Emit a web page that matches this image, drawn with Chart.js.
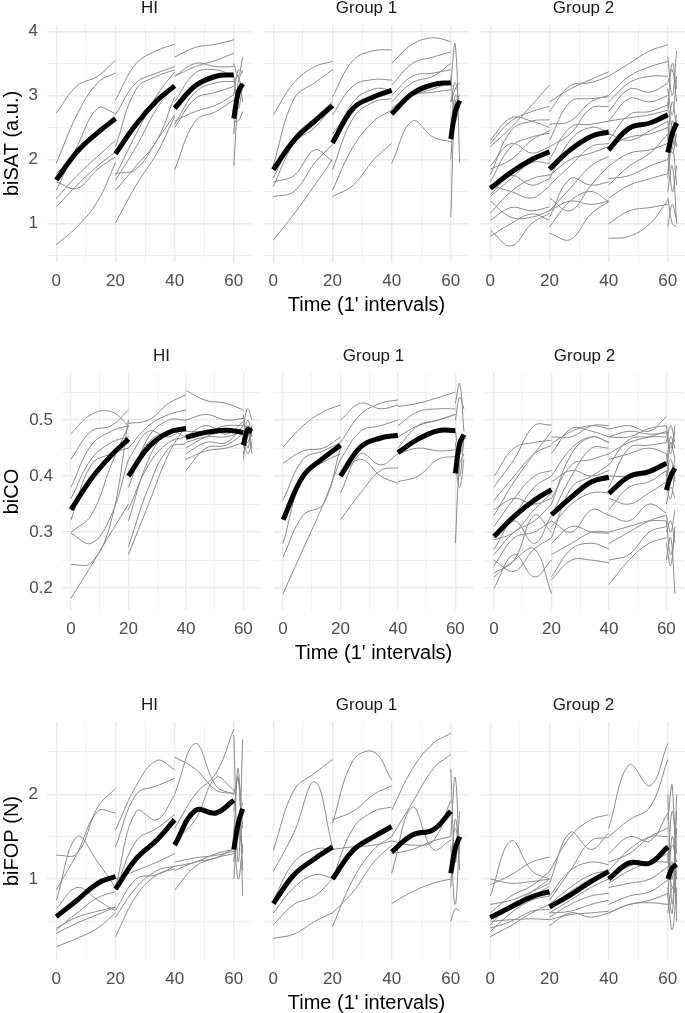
<!DOCTYPE html>
<html>
<head>
<meta charset="utf-8">
<script src="https://cdn.jsdelivr.net/npm/chart.js@4.4.1/dist/chart.umd.min.js"></script>
<style>
  html, body { margin: 0; padding: 0; background: #fff; overflow: hidden; }
  body { width: 685px; height: 1013px; position: relative; }
  .panel { position: absolute; }
</style>
</head>
<body>
<script>
// every line is cut in four blocks: 0-20, 20-40, 40-60 and the short 60-63 tail
const segTimes = [[0, 7, 14, 20], [20, 27, 34, 40], [40, 47, 54, 60], [60, 61.5, 63]];
const xTicks = [0, 10, 20, 30, 40, 50, 60];
const xTickLabels = ['0', '', '20', '', '40', '', '60'];
const groups = ['HI', 'Group 1', 'Group 2'];

const satTicks = [0.5, 1, 1.5, 2, 2.5, 3, 3.5, 4];
const satTickLabels = ['', '1', '', '2', '', '3', '', '4'];
const coTicks = [0.2, 0.25, 0.3, 0.35, 0.4, 0.45, 0.5, 0.55];
const coTickLabels = ['0.2', '', '0.3', '', '0.4', '', '0.5', ''];
const fopTicks = [0.5, 1, 1.5, 2, 2.5];
const fopTickLabels = ['', '1', '', '2', ''];

// biSAT
const satHIMean = [1.68, 2.12, 2.42, 2.64, 2.09, 2.55, 2.92, 3.15, 2.8, 3.15, 3.3, 3.32, 2.64, 3.05, 3.18];
const satHI = [
  [2.73, 3.15, 3.3, 3.55, 2.93, 3.5, 3.7, 3.8, 3.6, 3.75, 3.8, 3.87, 3.5, 3.3, 3.6],
  [1.94, 2.7, 3.2, 3.35, 2.7, 3.2, 3.35, 3.45, 3.3, 3.45, 3.55, 3.66, 3.0, 3.4, 3.35],
  [1.52, 2.2, 2.8, 2.72, 2.2, 3.1, 3.3, 3.4, 3.3, 3.5, 3.45, 3.45, 3.3, 2.8, 3.15],
  [1.78, 2.1, 2.4, 2.6, 1.75, 2.4, 3.0, 3.37, 2.9, 3.35, 3.4, 3.3, 2.4, 3.2, 3.4],
  [1.39, 1.75, 2.05, 2.3, 1.68, 2.2, 2.8, 3.15, 2.55, 3.05, 3.2, 3.22, 3.1, 3.0, 3.2],
  [1.26, 1.6, 1.9, 2.12, 1.52, 1.9, 2.3, 2.98, 2.5, 2.95, 3.05, 3.14, 3.2, 3.3, 2.9],
  [1.65, 1.55, 1.85, 2.04, 1.78, 1.85, 2.3, 2.7, 2.6, 2.75, 2.85, 3.01, 2.6, 2.6, 2.75],
  [0.67, 0.95, 1.35, 1.95, 1.01, 1.6, 2.1, 2.67, 1.84, 2.6, 2.75, 2.93, 1.9, 2.9, 3.2]
];
const satG1Mean = [1.84, 2.3, 2.6, 2.84, 2.26, 2.8, 2.98, 3.08, 2.71, 3.03, 3.17, 3.2, 2.32, 2.75, 2.92];
const satG1 = [
  [2.70, 3.2, 3.45, 3.53, 2.98, 3.55, 3.7, 3.71, 3.5, 3.8, 3.9, 3.84, 3.2, 3.8, 1.95],
  [1.91, 2.95, 3.2, 3.4, 2.7, 3.15, 3.25, 3.24, 3.16, 3.5, 3.6, 3.68, 1.1, 2.9, 3.0],
  [1.71, 2.35, 2.65, 2.9, 2.25, 2.9, 3.1, 3.09, 2.9, 3.2, 3.3, 3.5, 2.9, 3.2, 2.8],
  [1.58, 2.25, 2.5, 2.83, 1.84, 2.65, 2.9, 2.95, 2.8, 3.0, 3.1, 3.21, 3.3, 2.6, 2.9],
  [1.42, 1.5, 1.95, 2.23, 1.52, 2.2, 2.6, 2.77, 2.75, 3.0, 3.05, 3.09, 2.5, 3.0, 2.9],
  [1.65, 1.75, 2.15, 1.97, 1.42, 1.6, 2.0, 2.25, 1.94, 2.6, 2.35, 2.28, 2.0, 2.9, 2.8],
  [0.74, 1.15, 1.6, 2.0, 2.4, 2.8, 3.0, 3.1, 3.0, 3.3, 3.35, 3.4, 2.9, 3.1, 3.2]
];
const satG2Mean = [1.55, 1.8, 2.0, 2.12, 1.85, 2.15, 2.36, 2.43, 2.15, 2.49, 2.57, 2.7, 2.11, 2.4, 2.57];
const satG2 = [
  [2.25, 2.6, 2.75, 2.83, 2.9, 3.1, 3.25, 3.37, 3.3, 3.5, 3.7, 3.79, 3.6, 3.0, 3.7],
  [2.2, 2.5, 2.85, 3.16, 2.75, 3.15, 3.2, 3.3, 3.0, 3.3, 3.45, 3.53, 3.1, 2.7, 3.3],
  [1.76, 2.45, 2.6, 2.62, 2.3, 2.9, 2.95, 2.98, 2.75, 3.1, 3.05, 3.19, 3.2, 3.4, 2.9],
  [1.65, 2.2, 2.35, 2.41, 2.2, 2.4, 2.8, 2.83, 2.6, 2.95, 2.9, 3.0, 2.9, 2.5, 2.6],
  [1.9, 2.25, 2.1, 2.2, 2.0, 2.5, 2.55, 2.6, 2.6, 2.65, 2.7, 2.77, 2.3, 2.9, 2.5],
  [1.42, 1.7, 1.95, 1.94, 1.7, 2.3, 2.5, 2.43, 2.4, 2.3, 2.45, 2.6, 2.6, 2.2, 2.7],
  [1.6, 1.5, 1.4, 1.58, 1.6, 1.9, 2.2, 2.25, 2.2, 2.35, 2.4, 2.5, 2.0, 2.3, 2.2],
  [1.16, 1.5, 1.7, 1.76, 1.4, 1.2, 1.6, 1.9, 1.9, 2.1, 2.15, 2.25, 1.8, 2.2, 1.6],
  [1.05, 1.25, 1.2, 1.26, 1.1, 1.7, 1.6, 1.65, 1.7, 1.75, 1.9, 2.0, 2.4, 1.5, 1.9],
  [0.9, 0.65, 1.0, 1.16, 0.95, 1.35, 1.5, 1.34, 1.4, 1.6, 1.7, 1.78, 1.5, 1.9, 1.0],
  [0.8, 1.0, 1.15, 1.05, 0.85, 0.75, 1.15, 1.34, 0.77, 0.8, 1.0, 1.37, 1.4, 1.0, 0.95],
  [1.35, 1.1, 1.1, 1.2, 1.2, 1.35, 1.3, 1.35, 1.0, 1.2, 1.25, 1.3, 0.95, 1.3, 1.05],
  [2.3, 2.65, 2.6, 2.5, 2.55, 2.6, 2.9, 3.0, 2.9, 3.2, 3.3, 3.3, 2.8, 3.5, 3.1],
  [1.45, 1.75, 1.6, 1.7, 1.2, 1.55, 1.9, 2.05, 1.6, 1.9, 2.1, 2.4, 1.7, 2.6, 2.2],
  [1.85, 2.0, 2.3, 2.45, 1.75, 2.0, 2.1, 2.2, 2.3, 2.7, 2.75, 2.85, 2.5, 2.1, 2.4]
];

// biCO
const coHIMean = [0.34, 0.395, 0.437, 0.466, 0.40, 0.452, 0.478, 0.485, 0.469, 0.478, 0.482, 0.478, 0.455, 0.483, 0.479];
const coHI = [
  [0.476, 0.51, 0.515, 0.49, 0.494, 0.50, 0.53, 0.545, 0.553, 0.535, 0.53, 0.518, 0.49, 0.52, 0.50],
  [0.43, 0.48, 0.49, 0.518, 0.45, 0.49, 0.51, 0.518, 0.50, 0.51, 0.50, 0.503, 0.46, 0.50, 0.47],
  [0.38, 0.455, 0.48, 0.49, 0.38, 0.47, 0.50, 0.50, 0.47, 0.49, 0.475, 0.497, 0.51, 0.45, 0.49],
  [0.322, 0.42, 0.44, 0.45, 0.32, 0.43, 0.48, 0.47, 0.44, 0.46, 0.46, 0.49, 0.43, 0.48, 0.44],
  [0.298, 0.28, 0.33, 0.43, 0.274, 0.38, 0.45, 0.458, 0.41, 0.45, 0.455, 0.476, 0.47, 0.44, 0.46],
  [0.242, 0.245, 0.32, 0.50, 0.26, 0.35, 0.44, 0.49, 0.43, 0.445, 0.45, 0.46, 0.45, 0.49, 0.45],
  [0.182, 0.24, 0.30, 0.35, 0.40, 0.46, 0.48, 0.48, 0.46, 0.47, 0.47, 0.48, 0.44, 0.47, 0.48],
  [0.36, 0.43, 0.46, 0.47, 0.43, 0.48, 0.47, 0.49, 0.48, 0.48, 0.49, 0.49, 0.47, 0.46, 0.49],
  [0.30, 0.33, 0.42, 0.49, 0.34, 0.42, 0.46, 0.47, 0.45, 0.47, 0.48, 0.48, 0.46, 0.49, 0.47]
];
const coG1Mean = [0.322, 0.40, 0.432, 0.455, 0.40, 0.452, 0.468, 0.473, 0.442, 0.466, 0.481, 0.481, 0.405, 0.458, 0.474];
const coG1 = [
  [0.452, 0.49, 0.515, 0.527, 0.50, 0.53, 0.52, 0.527, 0.524, 0.53, 0.54, 0.55, 0.53, 0.565, 0.48],
  [0.423, 0.445, 0.45, 0.47, 0.46, 0.51, 0.53, 0.536, 0.49, 0.515, 0.52, 0.52, 0.50, 0.54, 0.52],
  [0.357, 0.43, 0.445, 0.46, 0.37, 0.44, 0.42, 0.44, 0.44, 0.45, 0.445, 0.447, 0.28, 0.42, 0.44],
  [0.28, 0.40, 0.425, 0.44, 0.322, 0.37, 0.41, 0.415, 0.39, 0.40, 0.43, 0.435, 0.42, 0.38, 0.43],
  [0.256, 0.33, 0.35, 0.45, 0.40, 0.43, 0.40, 0.387, 0.45, 0.49, 0.50, 0.51, 0.46, 0.40, 0.47],
  [0.19, 0.27, 0.35, 0.43, 0.43, 0.48, 0.49, 0.50, 0.47, 0.49, 0.50, 0.51, 0.48, 0.44, 0.46]
];
const coG2Mean = [0.292, 0.328, 0.357, 0.376, 0.331, 0.363, 0.39, 0.398, 0.369, 0.399, 0.408, 0.423, 0.375, 0.40, 0.414];
const coG2 = [
  [0.381, 0.43, 0.49, 0.491, 0.458, 0.48, 0.49, 0.484, 0.484, 0.49, 0.48, 0.506, 0.48, 0.44, 0.49],
  [0.40, 0.45, 0.46, 0.464, 0.44, 0.485, 0.48, 0.47, 0.47, 0.48, 0.475, 0.477, 0.46, 0.49, 0.46],
  [0.357, 0.40, 0.44, 0.455, 0.40, 0.45, 0.47, 0.46, 0.42, 0.465, 0.47, 0.47, 0.42, 0.47, 0.45],
  [0.31, 0.36, 0.40, 0.41, 0.33, 0.40, 0.45, 0.45, 0.38, 0.45, 0.455, 0.46, 0.44, 0.40, 0.43],
  [0.29, 0.33, 0.38, 0.40, 0.36, 0.42, 0.43, 0.44, 0.43, 0.44, 0.45, 0.44, 0.40, 0.43, 0.39],
  [0.286, 0.30, 0.34, 0.37, 0.29, 0.38, 0.40, 0.42, 0.34, 0.38, 0.39, 0.41, 0.38, 0.36, 0.41],
  [0.26, 0.30, 0.32, 0.35, 0.31, 0.35, 0.37, 0.37, 0.36, 0.35, 0.37, 0.39, 0.35, 0.38, 0.36],
  [0.24, 0.29, 0.30, 0.32, 0.32, 0.30, 0.34, 0.33, 0.33, 0.32, 0.35, 0.334, 0.33, 0.30, 0.34],
  [0.227, 0.25, 0.33, 0.30, 0.28, 0.31, 0.30, 0.298, 0.28, 0.30, 0.32, 0.33, 0.30, 0.32, 0.28],
  [0.20, 0.26, 0.22, 0.25, 0.215, 0.25, 0.25, 0.245, 0.206, 0.25, 0.28, 0.29, 0.25, 0.29, 0.19],
  [0.22, 0.25, 0.27, 0.19, 0.26, 0.28, 0.30, 0.30, 0.30, 0.31, 0.32, 0.32, 0.32, 0.26, 0.30],
  [0.34, 0.36, 0.35, 0.36, 0.39, 0.41, 0.40, 0.41, 0.40, 0.40, 0.41, 0.42, 0.41, 0.39, 0.42],
  [0.33, 0.39, 0.44, 0.48, 0.47, 0.47, 0.49, 0.49, 0.47, 0.47, 0.485, 0.49, 0.49, 0.45, 0.48],
  [0.27, 0.32, 0.28, 0.33, 0.35, 0.44, 0.47, 0.46, 0.44, 0.46, 0.47, 0.48, 0.39, 0.46, 0.43],
  [0.25, 0.23, 0.27, 0.29, 0.22, 0.27, 0.28, 0.27, 0.25, 0.26, 0.30, 0.31, 0.28, 0.24, 0.31]
];

// biFOP
const fopHIMean = [0.555, 0.75, 0.95, 1.03, 0.88, 1.24, 1.46, 1.70, 1.40, 1.81, 1.78, 1.93, 1.35, 1.66, 1.83];
const fopHI = [
  [1.28, 1.3, 1.85, 2.07, 1.58, 2.1, 2.4, 2.29, 2.44, 2.3, 2.05, 2.01, 2.0, 2.2, 1.1],
  [0.87, 1.3, 1.8, 1.78, 1.38, 2.0, 2.1, 2.19, 2.0, 2.6, 2.1, 2.0, 2.7, 1.2, 2.65],
  [0.75, 1.5, 1.2, 0.9, 0.9, 1.8, 1.7, 1.99, 1.6, 2.0, 2.25, 2.77, 1.5, 2.3, 0.8],
  [0.42, 0.55, 0.62, 0.67, 0.87, 1.45, 1.6, 1.76, 1.1, 1.2, 1.25, 1.36, 1.3, 1.5, 1.4],
  [0.36, 0.48, 0.58, 0.67, 0.63, 1.0, 1.05, 1.15, 0.87, 1.15, 1.25, 1.3, 1.2, 1.7, 1.9],
  [0.2, 0.3, 0.42, 0.6, 0.32, 0.8, 1.05, 1.12, 1.45, 1.7, 2.2, 2.05, 1.8, 2.2, 1.6],
  [0.65, 0.9, 0.75, 0.62, 1.0, 1.1, 1.2, 1.3, 1.15, 1.2, 1.3, 1.35, 1.0, 1.6, 1.3],
  [0.4, 0.6, 0.78, 0.85, 0.55, 0.9, 1.1, 1.15, 1.2, 1.25, 1.28, 1.33, 1.6, 1.0, 1.4]
];
const fopG1Mean = [0.71, 1.05, 1.24, 1.38, 1.0, 1.34, 1.5, 1.62, 1.32, 1.52, 1.58, 1.80, 1.07, 1.36, 1.5];
const fopG1 = [
  [1.34, 2.05, 2.25, 2.41, 1.66, 2.4, 2.5, 2.17, 1.81, 2.3, 2.6, 2.72, 2.3, 1.2, 1.8],
  [1.09, 1.55, 2.15, 1.38, 1.7, 1.8, 2.0, 2.1, 1.5, 1.9, 2.3, 2.47, 1.5, 2.2, 1.1],
  [0.6, 0.9, 1.05, 1.01, 1.0, 1.6, 1.8, 1.85, 1.07, 1.85, 1.35, 1.46, 0.9, 1.7, 1.3],
  [0.46, 0.7, 0.8, 1.0, 0.44, 1.0, 1.35, 1.5, 1.45, 1.4, 1.45, 1.93, 1.4, 0.7, 1.5],
  [0.3, 0.35, 0.5, 0.6, 0.6, 0.85, 1.2, 1.4, 0.71, 0.85, 0.95, 1.0, 0.5, 0.65, 0.62],
  [0.75, 1.2, 1.35, 1.36, 1.35, 1.38, 1.4, 1.45, 1.3, 1.35, 1.45, 1.5, 1.2, 1.6, 1.3]
];
const fopG2Mean = [0.547, 0.67, 0.79, 0.85, 0.67, 0.81, 0.97, 1.09, 1.0, 1.19, 1.19, 1.38, 1.0, 1.13, 1.17];
const fopG2 = [
  [0.8, 1.45, 1.1, 1.0, 1.09, 1.5, 1.7, 1.76, 1.6, 2.35, 2.1, 2.6, 2.0, 0.7, 2.0],
  [0.93, 1.05, 1.2, 1.26, 0.95, 1.55, 1.35, 1.54, 1.5, 1.7, 1.85, 2.41, 1.7, 2.1, 0.5],
  [0.6, 0.8, 0.92, 1.09, 0.8, 1.1, 1.2, 1.17, 1.3, 1.5, 1.45, 1.78, 1.2, 1.8, 1.3],
  [0.46, 0.7, 0.8, 0.91, 0.67, 0.85, 1.0, 1.07, 1.1, 1.35, 1.5, 1.5, 0.8, 1.5, 1.0],
  [0.38, 0.6, 0.75, 0.8, 0.55, 0.7, 0.8, 0.83, 0.9, 0.95, 1.0, 1.15, 1.0, 1.2, 0.7],
  [0.32, 0.45, 0.6, 0.7, 0.45, 0.6, 0.55, 0.6, 0.7, 0.8, 0.85, 0.99, 0.9, 0.6, 1.6],
  [0.5, 0.52, 0.53, 0.52, 0.52, 0.58, 0.6, 0.62, 0.6, 0.7, 0.75, 0.83, 0.6, 0.9, 0.8],
  [0.7, 0.75, 0.85, 0.95, 0.6, 0.75, 0.9, 1.0, 0.95, 1.1, 1.2, 1.3, 1.1, 1.4, 1.2],
  [1.0, 0.95, 0.97, 1.0, 0.7, 0.9, 1.05, 1.1, 1.0, 1.15, 1.2, 1.2, 1.3, 0.9, 1.1],
  [0.55, 0.68, 0.85, 1.0, 0.75, 1.1, 1.45, 1.49, 1.2, 1.3, 1.5, 1.6, 1.4, 1.0, 1.8],
  [0.42, 0.5, 0.62, 0.64, 0.6, 0.62, 0.7, 0.75, 0.6, 0.7, 0.72, 0.7, 0.8, 0.4, 0.9]
];

// layout of the three facet rows (panel edges in page pixels)
const rows = [
  { yTitle: 'biSAT (a.u.)', ticks: satTicks, labels: satTickLabels, min: 0.4, max: 4.1,
    top: 25, bottom: 262, lefts: [47, 264, 481], width: 205,
    panels: [[satHI, satHIMean], [satG1, satG1Mean], [satG2, satG2Mean]] },
  { yTitle: 'biCO', ticks: coTicks, labels: coTickLabels, min: 0.161, max: 0.584,
    top: 373, bottom: 610, lefts: [62, 274, 485], width: 199,
    panels: [[coHI, coHIMean], [coG1, coG1Mean], [coG2, coG2Mean]] },
  { yTitle: 'biFOP (N)', ticks: fopTicks, labels: fopTickLabels, min: 0.044, max: 2.854,
    top: 722, bottom: 960, lefts: [47, 264, 481], width: 205,
    panels: [[fopHI, fopHIMean], [fopG1, fopG1Mean], [fopG2, fopG2Mean]] }
];

const TITLE_H = 30;
const XAXIS_H = 55;
Chart.defaults.font.family = "'Liberation Sans', Arial, Helvetica, sans-serif";

function segmentsOf(values) {
  let k = 0;
  return segTimes.map(times => times.map(t => ({ x: t, y: values[k++] })));
}

function lineSets(subjects, mean) {
  const sets = [];
  subjects.forEach(s => {
    segmentsOf(s).forEach(seg => sets.push({
      data: seg, borderColor: '#8a8a8a', borderWidth: 1, tension: 0.4, pointRadius: 0, order: 1
    }));
  });
  segmentsOf(mean).forEach(seg => sets.push({
    data: seg, borderColor: '#000000', borderWidth: 5, tension: 0.4, pointRadius: 0, order: 0
  }));
  return sets;
}

function makePanel(row, col) {
  const yW = col === 0 ? row.lefts[0] : 0;
  const left = col === 0 ? 0 : row.lefts[col];
  const box = document.createElement('div');
  box.className = 'panel';
  box.style.left = left + 'px';
  box.style.top = (row.top - TITLE_H) + 'px';
  box.style.width = (row.width + yW) + 'px';
  box.style.height = (TITLE_H + row.bottom - row.top + XAXIS_H) + 'px';
  const canvas = document.createElement('canvas');
  box.appendChild(canvas);
  document.body.appendChild(box);

  const [subjects, mean] = row.panels[col];

  new Chart(canvas, {
    type: 'line',
    data: { datasets: lineSets(subjects, mean) },
    options: {
      responsive: true,
      maintainAspectRatio: false,
      animation: false,
      events: [],
      layout: { padding: 0 },
      plugins: {
        legend: { display: false },
        tooltip: { enabled: false },
        title: {
          display: true, text: groups[col], fullSize: false, color: '#1a1a1a',
          font: { size: 17, weight: 'normal' }, padding: { top: 3.6, bottom: 6 }
        }
      },
      scales: {
        x: {
          type: 'linear', min: -3.15, max: 66.15,
          afterBuildTicks: s => { s.ticks = xTicks.map(v => ({ value: v })); },
          afterFit: s => { s.height = XAXIS_H; s.paddingLeft = 0; s.paddingRight = 0; },
          ticks: {
            callback: (v, i) => xTickLabels[i], autoSkip: false, maxRotation: 0,
            padding: 9, color: '#4d4d4d', font: { size: 17 }
          },
          grid: { color: '#ebebeb', lineWidth: c => (xTickLabels[c.index] ? 1.4 : 0.7), drawTicks: false },
          border: { display: false },
          title: { display: col === 1, text: "Time (1' intervals)", color: '#000', font: { size: 20 }, padding: 0 }
        },
        y: {
          min: row.min, max: row.max,
          afterBuildTicks: s => { s.ticks = row.ticks.map(v => ({ value: v })); },
          afterFit: s => { s.width = yW; s.paddingTop = 0; s.paddingBottom = 0; },
          ticks: {
            display: col === 0, callback: (v, i) => row.labels[i], autoSkip: false,
            padding: 9, color: '#4d4d4d', font: { size: 17 }
          },
          grid: { color: '#ebebeb', lineWidth: c => (row.labels[c.index] ? 1.4 : 0.7), drawTicks: false },
          border: { display: false },
          title: { display: col === 0, text: row.yTitle, color: '#000', font: { size: 20 }, padding: 0 }
        }
      }
    }
  });
}

rows.forEach(row => [0, 1, 2].forEach(col => makePanel(row, col)));
</script>
</body>
</html>
